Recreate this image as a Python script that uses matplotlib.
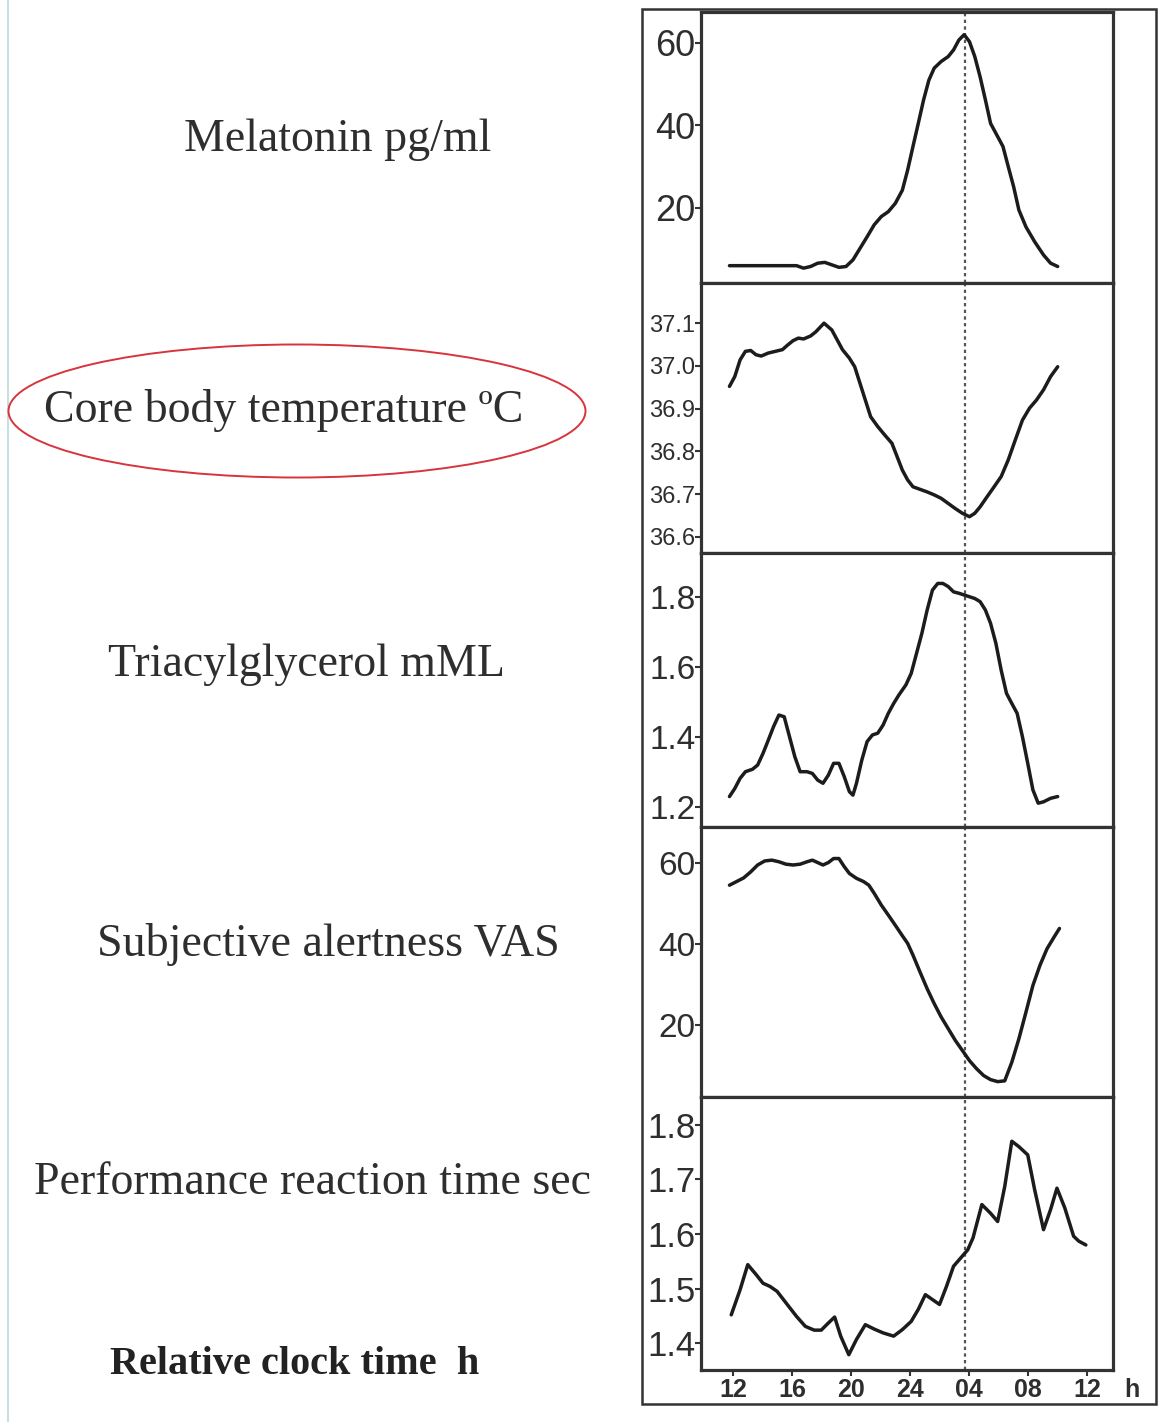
import matplotlib
matplotlib.use("Agg")
import matplotlib.pyplot as plt
from matplotlib import font_manager
from matplotlib.patches import Ellipse, Rectangle
from matplotlib.lines import Line2D

names = {f.name for f in font_manager.fontManager.ttflist}
HAS_NARROW = 'Liberation Sans Narrow' in names
NARROW = 'Liberation Sans Narrow' if HAS_NARROW else 'Liberation Sans'
SERIF = 'Liberation Serif'
SANS = 'Liberation Sans'

# ---------------- data ----------------
mel_t = [11.76, 16.31, 16.78, 17.26, 17.74, 18.22, 18.70, 19.18, 19.66, 20.13, 20.61, 21.09, 21.57, 22.05,
         22.53, 23.00, 23.48, 23.84, 24.20, 24.56, 24.92, 25.28, 25.64, 26.11, 26.59, 26.95, 27.31, 27.67,
         28.03, 28.39, 28.75, 29.11, 29.46, 29.82, 30.30, 30.66, 31.02, 31.38, 31.86, 32.45, 33.05, 33.53, 34.01]
mel_v = [6.0, 6.0, 5.4, 5.8, 6.6, 6.8, 6.2, 5.6, 5.8, 7.4, 10.2, 13.0, 15.9, 17.9,
         19.1, 21.1, 24.3, 29.2, 34.9, 40.5, 46.2, 51.0, 53.9, 55.5, 56.7, 58.3, 60.7, 62.0,
         60.3, 56.7, 51.8, 46.2, 40.5, 38.1, 34.9, 30.0, 25.2, 19.5, 15.4, 11.8, 8.6, 6.6, 5.8]

temp_t = [11.76, 12.12, 12.48, 12.84, 13.20, 13.56, 13.91, 14.39, 14.87, 15.35, 15.71, 16.07, 16.43, 16.78,
          17.26, 17.62, 18.17, 18.70, 19.06, 19.42, 19.89, 20.25, 20.61, 20.97, 21.33, 21.81, 22.29, 22.77,
          23.12, 23.48, 23.84, 24.20, 24.68, 25.16, 25.64, 26.11, 26.59, 27.07, 27.55, 28.03, 28.39, 28.75,
          29.23, 29.70, 30.18, 30.66, 31.14, 31.62, 32.10, 32.57, 33.05, 33.53, 34.01]
temp_v = [36.952, 36.975, 37.014, 37.034, 37.036, 37.026, 37.023, 37.030, 37.034, 37.038, 37.049, 37.059,
          37.065, 37.063, 37.070, 37.080, 37.100, 37.084, 37.061, 37.038, 37.018, 36.998, 36.959, 36.920,
          36.881, 36.858, 36.838, 36.819, 36.788, 36.756, 36.733, 36.717, 36.711, 36.705, 36.698, 36.690,
          36.678, 36.666, 36.655, 36.647, 36.655, 36.670, 36.694, 36.717, 36.741, 36.780, 36.827, 36.873,
          36.901, 36.920, 36.944, 36.975, 36.998]

tag_t = [11.76, 12.12, 12.48, 12.84, 13.32, 13.67, 14.03, 14.39, 14.75, 15.11, 15.47, 15.83, 16.19, 16.55,
         17.02, 17.38, 17.74, 18.10, 18.46, 18.82, 19.18, 19.54, 19.89, 20.13, 20.37, 20.73, 21.09, 21.45,
         21.81, 22.17, 22.53, 22.89, 23.24, 23.72, 24.08, 24.44, 24.80, 25.16, 25.52, 25.88, 26.23, 26.59,
         26.95, 27.31, 27.67, 28.03, 28.39, 28.75, 29.11, 29.46, 29.82, 30.18, 30.54, 30.90, 31.26, 31.62,
         31.98, 32.33, 32.69, 33.05, 33.53, 34.01]
tag_v = [1.229, 1.252, 1.281, 1.300, 1.307, 1.319, 1.352, 1.390, 1.429, 1.462, 1.457, 1.400, 1.343, 1.300,
         1.300, 1.295, 1.276, 1.267, 1.290, 1.324, 1.324, 1.286, 1.243, 1.233, 1.267, 1.333, 1.386, 1.405,
         1.410, 1.433, 1.467, 1.495, 1.519, 1.548, 1.581, 1.638, 1.695, 1.762, 1.819, 1.838, 1.838, 1.829,
         1.814, 1.810, 1.805, 1.800, 1.795, 1.786, 1.762, 1.724, 1.667, 1.590, 1.524, 1.495, 1.467, 1.400,
         1.324, 1.248, 1.210, 1.214, 1.224, 1.229]

alert_t = [11.76, 12.24, 12.72, 13.20, 13.67, 14.15, 14.63, 15.11, 15.59, 16.07, 16.55, 17.02, 17.38, 17.74,
           18.10, 18.46, 18.82, 19.18, 19.54, 19.89, 20.37, 20.85, 21.21, 21.57, 22.05, 22.53, 23.00, 23.48,
           23.84, 24.20, 24.68, 25.16, 25.64, 26.11, 26.59, 27.07, 27.55, 28.03, 28.51, 28.99, 29.46, 29.94,
           30.42, 30.90, 31.38, 31.86, 32.33, 32.81, 33.29, 33.77, 34.13]
alert_v = [54.6, 55.5, 56.4, 57.9, 59.6, 60.6, 60.8, 60.4, 59.8, 59.6, 59.8, 60.4, 60.8, 60.2,
           59.6, 60.2, 61.2, 61.2, 59.2, 57.5, 56.3, 55.5, 54.6, 52.6, 49.7, 47.2, 44.7, 42.1,
           40.2, 37.3, 33.1, 29.0, 25.3, 22.0, 19.1, 16.2, 13.7, 11.2, 9.2, 7.5, 6.5, 6.0,
           6.2, 10.8, 16.6, 23.2, 29.8, 34.8, 38.9, 41.8, 43.9]

rt_t = [11.88, 12.48, 13.00, 13.56, 14.03, 14.51, 14.99, 15.59, 16.31, 16.90, 17.50, 17.98, 18.46, 18.89,
        19.30, 19.85, 20.37, 20.97, 21.57, 22.17, 22.89, 23.48, 24.08, 24.56, 25.04, 25.52, 26.00, 26.47,
        26.95, 27.43, 27.91, 28.27, 28.87, 29.46, 29.94, 30.42, 30.90, 31.38, 31.98, 32.45, 33.05, 33.53,
        33.96, 34.49, 35.09, 35.44, 35.92]
rt_v = [1.452, 1.498, 1.544, 1.526, 1.510, 1.504, 1.495, 1.474, 1.449, 1.431, 1.424, 1.424, 1.437, 1.448,
        1.413, 1.379, 1.407, 1.434, 1.426, 1.419, 1.413, 1.425, 1.440, 1.462, 1.489, 1.480, 1.471, 1.504,
        1.541, 1.556, 1.571, 1.593, 1.654, 1.638, 1.623, 1.687, 1.770, 1.760, 1.745, 1.681, 1.608, 1.645,
        1.684, 1.648, 1.596, 1.587, 1.580]

panel_labels = ["Melatonin pg/ml", "Core body temperature \u00baC", "Triacylglycerol mML",
                "Subjective alertness VAS", "Performance reaction time sec"]
x_label = "Relative clock time  h"

mel_ticks = [20, 40, 60]
temp_ticks = [36.6, 36.7, 36.8, 36.9, 37.0, 37.1]
tag_ticks = [1.2, 1.4, 1.6, 1.8]
alert_ticks = [20, 40, 60]
rt_ticks = [1.4, 1.5, 1.6, 1.7, 1.8]

x_ticks = [12, 16, 20, 24, 28, 32, 36]
x_ticklabels = ["12", "16", "20", "24", "04", "08", "12"]
marker_time = 27.7

# ---------------- layout ----------------
W, H = 1173, 1422
fig = plt.figure(figsize=(W / 100, H / 100), dpi=100)
fig.patch.set_facecolor('white')

def fx(px):
    return px / W

def fy(py):
    return 1 - py / H

LEFT, RIGHT = 701, 1113
bounds = [12, 283, 553, 827, 1097, 1370]
TXT = '#2e2e2e'
LINE = '#1c1c1c'
SP = '#333333'

temp_fs = 22 if HAS_NARROW else 17
panels = [
    (mel_t, mel_v, mel_ticks, [f"{v:d}" for v in mel_ticks], (1.8, 67.5), 26),
    (temp_t, temp_v, temp_ticks, [f"{v:.1f}" for v in temp_ticks], (36.562, 37.194), temp_fs),
    (tag_t, tag_v, tag_ticks, [f"{v:.1f}" for v in tag_ticks], (1.142, 1.925), 24),
    (alert_t, alert_v, alert_ticks, [f"{v:d}" for v in alert_ticks], (2.2, 69.0), 24),
    (rt_t, rt_v, rt_ticks, [f"{v:.1f}" for v in rt_ticks], (1.351, 1.851), 25),
]

for i, (t, v, yt, ytl, ylim, fs) in enumerate(panels):
    top, bot = bounds[i], bounds[i + 1]
    ax = fig.add_axes([fx(LEFT), fy(bot), fx(RIGHT - LEFT), (bot - top) / H])
    ax.plot(t, v, color=LINE, lw=2.5, solid_joinstyle='round', solid_capstyle='round')
    ax.axvline(marker_time, color='#555555', lw=1.6, linestyle=(0, (1.5, 1.5)), zorder=0)
    ax.set_xlim(9.83, 37.76)
    ax.set_ylim(*ylim)
    ax.set_yticks(yt)
    ax.set_yticklabels(ytl, fontfamily=NARROW, fontsize=fs, color=TXT)
    ax.tick_params(axis='y', direction='out', length=4, width=1.5, color=SP, pad=0)
    for s in ax.spines.values():
        s.set_linewidth(2.3)
        s.set_color(SP)
    if i < 4:
        ax.set_xticks([])
    else:
        ax.set_xticks(x_ticks)
        ax.set_xticklabels(x_ticklabels, fontfamily=SANS, fontsize=18, fontweight='bold', color=TXT)
        ax.tick_params(axis='x', direction='out', length=4, width=1.5, color=SP, pad=2)

# "h" unit after x tick labels
fig.text(fx(1132), fy(1390), "h", fontfamily=SANS, fontsize=18, fontweight='bold', color=TXT,
         ha='center', va='center')

# outer frame
fig.patches.append(Rectangle((fx(642), fy(1404)), fx(1156 - 642), (1404 - 9) / H,
                             transform=fig.transFigure, fill=False, ec=SP, lw=1.8, zorder=5))

# faint left edge line
fig.lines.append(Line2D([fx(8), fx(8)], [0, 1], transform=fig.transFigure, color='#c8e0e0', lw=1.5))

# left labels
label_pos = [(338, 140), (284, 410), (306, 665), (328, 945), (312, 1183)]
for (lx, ly), txt in zip(label_pos, panel_labels):
    fig.text(fx(lx), fy(ly), txt, fontfamily=SERIF, fontsize=33, color=TXT, ha='center', va='center')

fig.text(fx(295), fy(1365), x_label, fontfamily=SERIF, fontsize=29, fontweight='bold', color='#222222',
         ha='center', va='center')

# red ellipse around temperature label
fig.patches.append(Ellipse((fx(297), fy(411)), fx(577), 133 / H, transform=fig.transFigure,
                           fill=False, ec='#d8343c', lw=1.4, zorder=6))

fig.savefig("out.png", dpi=100, facecolor='white')
